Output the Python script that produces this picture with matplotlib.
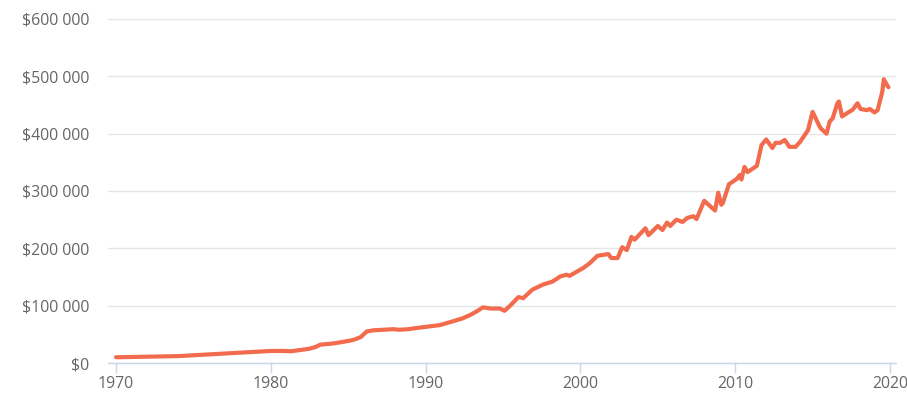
import matplotlib
matplotlib.use("Agg")
import matplotlib.pyplot as plt
from matplotlib.ticker import FuncFormatter

# values (thousands of dollars)
years = [1970, 1971, 1972, 1973, 1974, 1975, 1976, 1977, 1978, 1979, 1980,
         1980.8, 1981.3, 1982, 1982.5, 1982.9, 1983.2, 1984, 1984.7, 1985.3,
         1985.8, 1986.2, 1986.6, 1987.3, 1987.9, 1988.3, 1988.9, 1989.4, 1990,
         1990.9, 1991.8, 1992.4, 1992.9, 1993.3, 1993.7, 1994.2, 1994.8, 1995.1,
         1995.5, 1996.0, 1996.3, 1996.9, 1997.6, 1998.2, 1998.7, 1999.1, 1999.3,
         2000.2, 2000.6, 2001.1, 2001.8, 2002.0, 2002.4, 2002.7, 2003.0, 2003.3,
         2003.5, 2004.2, 2004.4, 2005.0, 2005.3, 2005.6, 2005.8, 2006.2, 2006.6,
         2006.9, 2007.3, 2007.5, 2008.0, 2008.4, 2008.7, 2008.9, 2009.1, 2009.2,
         2009.6, 2010.1, 2010.3, 2010.4, 2010.6, 2010.8, 2011.4, 2011.7, 2012.0,
         2012.4, 2012.6, 2012.9, 2013.2, 2013.5, 2013.9, 2014.2, 2014.5, 2014.7,
         2015.0, 2015.3, 2015.5, 2015.9, 2016.1, 2016.3, 2016.6, 2016.7, 2016.9,
         2017.3, 2017.6, 2017.9, 2018.1, 2018.5, 2018.7, 2019.0, 2019.2, 2019.5,
         2019.6, 2019.8, 2019.9]
values_k = [10, 10.5, 11, 11.5, 12, 13.5, 15, 16.5, 18, 19.5, 21,
            21, 20.5, 23, 25, 28, 32, 34, 37, 40,
            45, 55, 57, 58, 59, 58, 59, 61, 63,
            66, 73, 78, 84, 90, 97, 95, 95, 91,
            101, 115, 113, 128, 137, 142, 151, 154, 152,
            166, 174, 187, 190, 183, 183, 202, 197, 220,
            215, 235, 223, 239, 232, 245, 239, 250, 246,
            253, 256, 251, 283, 273, 266, 297, 276, 279,
            312, 321, 328, 320, 342, 333, 344, 380, 390,
            375, 384, 384, 389, 377, 377, 386, 398, 406,
            438, 421, 410, 400, 421, 427, 453, 456, 430,
            437, 442, 453, 443, 441, 443, 437, 441, 473,
            495, 485, 481]
values = [v * 1000 for v in values_k]

y_ticks = [0, 100000, 200000, 300000, 400000, 500000, 600000]
x_ticks = [1970, 1980, 1990, 2000, 2010, 2020]

plt.rcParams["font.family"] = ["Open Sans", "DejaVu Sans"]

W, H = 907, 415
fig = plt.figure(figsize=(W / 100, H / 100), dpi=100)
ax = fig.add_axes([108 / W, (H - 363) / H, (896 - 108) / W, (363 - 19) / H])

ax.plot(years, values, color="#F26B4C", lw=3, solid_joinstyle="round",
        solid_capstyle="round", zorder=3)

ax.set_xlim(1970 - 8 / 15.48, 2020 + 6 / 15.48)
ax.set_ylim(0, 600000)
ax.set_yticks(y_ticks)
ax.set_xticks(x_ticks)


def money(v, pos):
    return "$" + "{:,.0f}".format(v).replace(",", " ")


ax.yaxis.set_major_formatter(FuncFormatter(money))

ax.grid(axis="y", color="#e6e6e6", lw=1)
ax.set_axisbelow(True)
for s in ["top", "right", "left"]:
    ax.spines[s].set_visible(False)
ax.spines["bottom"].set_color("#ccd6eb")
ax.spines["bottom"].set_linewidth(1)

ax.tick_params(axis="y", length=0, pad=13.5, labelsize=11.4, labelcolor="#666666")
ax.tick_params(axis="x", length=7.5, width=1, color="#ccd6eb", pad=1.5,
               labelsize=11.4, labelcolor="#666666")

fig.savefig("out.png", dpi=100)
